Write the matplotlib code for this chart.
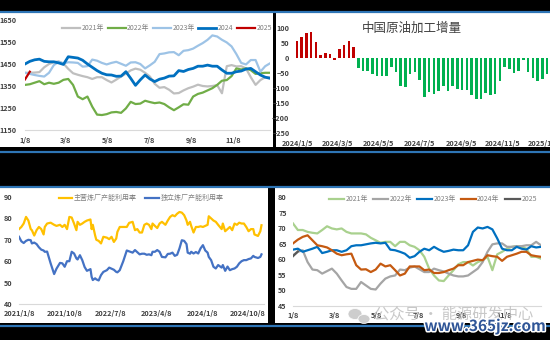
import numpy as np
import pandas as pd
import matplotlib
matplotlib.use("Agg")
import matplotlib.pyplot as plt
from matplotlib.patches import Rectangle, Ellipse
import matplotlib.patheffects as pe

plt.rcParams['font.family'] = ['Noto Sans CJK SC', 'DejaVu Sans']

# ---------- 数据 ----------
# 左上: 周度, 1/8 起
tl_2021 = [1410, 1410, 1411, 1413, 1435, 1450, 1458, 1462, 1452, 1428, 1408, 1401, 1395, 1390, 1382, 1390,
           1390, 1377, 1366, 1379, 1393, 1406, 1421, 1429, 1424, 1410, 1393, 1360, 1342, 1345, 1333, 1316,
           1318, 1330, 1340, 1347, 1356, 1350, 1348, 1350, 1354, 1317, 1440, 1445, 1439, 1440, 1430, 1390,
           1355, 1377, 1390, 1390]
tl_2022 = [1355, 1358, 1365, 1372, 1358, 1365, 1360, 1365, 1378, 1382, 1355, 1302, 1290, 1302, 1256, 1220,
           1218, 1222, 1230, 1232, 1228, 1248, 1278, 1268, 1270, 1283, 1277, 1272, 1275, 1268, 1253, 1240,
           1253, 1267, 1265, 1302, 1314, 1320, 1330, 1340, 1355, 1374, 1377, 1395, 1430, 1425, 1430, 1422,
           1405, 1408, 1410, 1410]
tl_2023 = [1410, 1405, 1400, 1396, 1393, 1410, 1445, 1460, 1453, 1458, 1457, 1455, 1438, 1440, 1470, 1465,
           1455, 1448, 1455, 1460, 1451, 1442, 1457, 1458, 1450, 1430, 1444, 1460, 1495, 1498, 1503, 1504,
           1490, 1510, 1513, 1520, 1533, 1545, 1560, 1580, 1575, 1560, 1548, 1530, 1495, 1455, 1448, 1468,
           1468, 1415, 1440, 1453]
tl_2024 = [1450, 1462, 1469, 1472, 1462, 1460, 1460, 1455, 1448, 1483, 1480, 1477, 1467, 1450, 1435, 1420,
           1408, 1401, 1400, 1394, 1395, 1415, 1385, 1353, 1378, 1400, 1382, 1370, 1381, 1386, 1395, 1396,
           1420, 1416, 1425, 1430, 1440, 1440, 1445, 1440, 1440, 1423, 1408, 1408, 1415, 1418, 1427, 1430,
           1415, 1400, 1390, 1385]
tl_2025 = [1380, 1415]
md_labels = ['1/8', '3/8', '5/8', '7/8', '9/8', '11/8']

# 右上: 中国原油加工增量 (周度, 2024/1/5 起)
inc_values = [57, 70, 83, 87, 53, 11, 18, 13, -8, 29, 44, 57, 37,
              -33, -44, -43, -52, -59, -61, -61, -30, -46, -94, -97, -52, -48, -72, -130, -113,
              -121, -110, -93, -110, -93, -102, -106, -108, -124, -138, -136, -117, -124, -119,
              -78, -30, -36, -50, -43, -6, -47, -67, -77, -69, -52]
n_red = 13
inc_ticks = ['2024-01-05', '2024-03-05', '2024-05-05', '2024-07-05', '2024-09-05', '2024-11-05', '2025-01-05']

# 左下: 开工率 (2021/1/8 起, 周序号)
bl_weeks = [0, 2, 4, 6, 8, 10, 11, 13, 15, 17, 19, 21, 22, 24, 27, 30, 32, 35, 37, 39, 41, 43, 45, 47, 49,
            50, 52, 54, 56, 58, 61, 62, 63, 65, 66, 68, 70, 72, 75, 77, 79, 81, 83, 84, 86, 89, 92, 94, 97,
            99, 101, 103, 105, 107, 109, 111, 113, 114, 116, 118, 120, 122, 125, 127, 129, 131, 133, 135,
            137, 139, 141, 143, 144, 146, 147, 149, 151, 153, 155, 157, 159, 161, 162, 164, 166, 168, 170,
            173, 174, 176, 178, 180, 182, 184, 186, 188, 190, 192, 194, 196, 198, 200, 201, 204, 206, 207]
main_rate = [75, 76, 77.6, 80.7, 79, 75, 74.5, 72, 74.5, 76, 75, 72.5, 76, 77.6, 78, 77, 76.5, 77, 76, 77,
             75, 80.7, 80.4, 77.6, 74.5, 78.4, 77, 77.6, 78.4, 79, 79.5, 75, 77, 72, 70, 69.5, 68.3, 71.4,
             71, 70.3, 71.4, 69, 70.6, 73.7, 76, 76, 76, 77.9, 78.4, 74.5, 75, 73.4, 73.4, 77, 77.6, 77, 75,
             77.6, 76.5, 75.5, 77.6, 78.4, 77, 79, 80.7, 81.5, 81, 82.2, 83, 82.7, 81.5, 79, 77, 78.4, 76.5,
             73.4, 76, 76, 76.3, 76, 76.5, 77, 81, 80, 79, 78.4, 77, 75, 77.6, 74, 75, 76, 74.5, 77.6, 77,
             78, 77.6, 77.6, 76, 74, 75, 75, 72.5, 71.8, 74, 76.8]
indep_rate = [71.4, 69.3, 68.5, 69.5, 70, 69.8, 68.3, 68.7, 68, 66.5, 65.4, 65, 64.4, 64.5, 59, 54, 56.5,
              59.2, 59, 57.4, 60, 60, 64.4, 63.6, 61.3, 60.8, 62.8, 60.5, 57.3, 55.5, 56.3, 52.7, 51.2, 52,
              51.5, 51, 53.5, 55, 55.8, 57, 56.5, 56, 55, 54.8, 55.8, 60, 65, 64.6, 64, 65.2, 64.2, 63.2,
              63.5, 63.5, 63, 63.2, 62.8, 64.4, 64.4, 65.2, 64.4, 62, 61.8, 63.4, 63.5, 64, 62.5, 63, 66,
              69.8, 69.5, 68, 64, 63.5, 64.4, 63.6, 64.3, 63.6, 66, 67.5, 65, 64, 62, 60.5, 57.4, 56.6, 58.2,
              57, 58.2, 55.5, 57.5, 55.8, 56.3, 56.6, 57.4, 59, 60, 60.5, 60.5, 61, 61.3, 62.5, 62, 61.5,
              62, 63.2]
bl_ticks = ['2021-01-08', '2021-10-08', '2022-07-08', '2023-04-08', '2024-01-08', '2024-10-08']

# 右下: 周度, 1/8 起
br_2021 = [71.5, 69.4, 69.4, 68.8, 68.5, 68.3, 69.4, 70.6, 69.9, 69.6, 69.9, 68.8, 68.3, 68.3, 68.3, 68,
           66.9, 66.1, 65.3, 65.6, 65.6, 64.2, 65.6, 65.6, 64.5, 64, 62.9, 60.8, 57, 54.8, 53.2, 53, 54.8,
           56.5, 58.4, 59.1, 59.1, 58, 59.1, 59.7, 60.8, 56.5, 61.6, 62.4, 63.4, 64, 64.2, 64, 63.4, 60.8,
           60.8, 60.2]
br_2022 = [61.3, 62.4, 62.9, 59.1, 56.7, 56.5, 55.4, 56.2, 57, 55.4, 53.2, 51.1, 50.5, 50.5, 52.7, 51.6,
           50.5, 50.3, 52.2, 53.8, 54.5, 54.8, 56.7, 56.5, 57.3, 57.7, 56.8, 55.9, 55.9, 57, 56.5, 56.1,
           55.4, 54.8, 54.5, 54.5, 54.8, 55.9, 57, 59.1, 62.4, 64.8, 65.1, 65.1, 64, 64, 64.2, 64.2, 64.5,
           64.5, 65.6, 64.5]
br_2023 = [63.1, 63.4, 62.4, 62.9, 63.4, 64, 62, 62.4, 62.9, 62.9, 62.4, 62.9, 64.2, 64.5, 64.5, 64.8,
           65.1, 65.3, 65.1, 65.3, 63.1, 62.9, 62.4, 61.8, 60.5, 61, 62.4, 63.4, 62.9, 64, 63.1, 62.4, 62.7,
           63.1, 62.9, 62.9, 64.5, 68.8, 70.2, 69.9, 70.4, 69.6, 66.7, 63.4, 62.9, 62.9, 64, 63.4, 63.1,
           64.2, 63.8, 64]
br_2024 = [65.1, 66.3, 67.2, 67.7, 66.1, 64.5, 64.2, 63.8, 62.9, 61.8, 61.3, 61.6, 61.8, 58.1, 56.7, 56.8,
           55.9, 56.7, 58.6, 57.7, 58.1, 56.5, 54.8, 55.4, 57.7, 57.7, 57.7, 56.5, 56.7, 55.6, 55.6, 55.9,
           56.5, 57, 58.1, 58.1, 59.1, 59.5, 59.9, 59.7, 61.3, 61, 60.8, 59.5, 60.8, 61.3, 61.8, 62.4, 62.4,
           61.3, 61.0, 60.8]
br_2025 = [61.0, 62.5]

# ---------- 画布 ----------
W, H = 550, 340
fig = plt.figure(figsize=(W / 100, H / 100), dpi=100, facecolor='black')


def frac(x0, y0, x1, y1):
    return [x0 / W, 1 - y1 / H, (x1 - x0) / W, (y1 - y0) / H]


def panel(x0, y0, x1, y1):
    r = Rectangle((x0 / W, 1 - y1 / H), (x1 - x0) / W, (y1 - y0) / H,
                  transform=fig.transFigure, facecolor='white', edgecolor='none', zorder=-5)
    fig.add_artist(r)


def hline(y):
    fig.add_artist(plt.Line2D([0, 1], [1 - y / H] * 2, transform=fig.transFigure,
                              color='#2E75B6', lw=1.6, zorder=-4))


panel(0, 13, 273, 147)
panel(276, 13, 550, 147)
panel(0, 188, 268, 323)
panel(275, 188, 550, 323)
for yy in [12, 152, 187, 326]:
    hline(yy)

tick_c = '#404040'
fs = 5.2
lg = 5.0


def style(ax, ypad, xpad):
    for s in ['top', 'right', 'left']:
        ax.spines[s].set_visible(False)
    ax.spines['bottom'].set_color('#D9D9D9')
    ax.spines['bottom'].set_linewidth(0.8)
    ax.tick_params(length=0, labelsize=fs, labelcolor=tick_c)
    ax.tick_params(axis='y', pad=ypad)
    ax.tick_params(axis='x', pad=xpad)
    ax.set_facecolor('white')
    for lab in ax.get_xticklabels() + ax.get_yticklabels():
        lab.set_fontweight('bold')


def legend(ax, n, cx, cy, hl, cs):
    ax.legend(ncol=n, loc='center', bbox_to_anchor=(cx / W, 1 - cy / H), bbox_transform=fig.transFigure,
              frameon=False, fontsize=lg, handlelength=hl, handletextpad=0.2, columnspacing=cs,
              labelcolor='#7F7F7F', borderpad=0, borderaxespad=0)


days_md = [(pd.Timestamp(f'2021-{m}-08') - pd.Timestamp('2021-01-08')).days / 7 for m in [1, 3, 5, 7, 9, 11]]

# 左上
ax1 = fig.add_axes(frac(25, 20, 270, 130))
ax1.plot(np.arange(len(tl_2021)), tl_2021, color='#BFBFBF', lw=1.6, label='2021年')
ax1.plot(np.arange(len(tl_2022)), tl_2022, color='#70AD47', lw=1.6, label='2022年')
ax1.plot(np.arange(len(tl_2023)), tl_2023, color='#9DC3E6', lw=1.6, label='2023年')
ax1.plot(np.arange(len(tl_2024)), tl_2024, color='#0070C0', lw=2.0, label='2024')
ax1.plot(np.arange(len(tl_2025)), tl_2025, color='#C00000', lw=1.6, label='2025')
ax1.set_xlim(0, 51)
ax1.set_ylim(1150, 1650)
ax1.set_yticks(np.arange(1150, 1651, 100))
ax1.set_xticks(days_md)
ax1.set_xticklabels(md_labels)
style(ax1, 6, 5)
legend(ax1, 5, 167, 28, 2.6, 0.5)

# 右上
ax2 = fig.add_axes(frac(295, 28, 549, 133))
start = pd.Timestamp('2024-01-05')
xd = np.arange(len(inc_values)) * 7
colors = ['#C00000'] * n_red + ['#00B050'] * (len(inc_values) - n_red)
ax2.bar(xd, inc_values, width=3.8, color=colors)
ax2.set_xlim(-3, 374)
ax2.set_ylim(-250, 100)
ax2.set_yticks(np.arange(-250, 101, 50))
tk = [(pd.Timestamp(t) - start).days for t in inc_ticks]
ax2.set_xticks(tk)
ax2.set_xticklabels([f'{pd.Timestamp(t).year}/{pd.Timestamp(t).month}/{pd.Timestamp(t).day}' for t in inc_ticks])
style(ax2, 4, 5)
ax2.spines['bottom'].set_visible(False)
fig.text(412 / W, 1 - 28 / H, '中国原油加工增量', ha='center', va='center', fontsize=9, color='#404040')

# 左下
ax3 = fig.add_axes(frac(19, 197, 264, 304))
ax3.plot(np.array(bl_weeks) * 7, main_rate, color='#FFC000', lw=1.6, label='主营炼厂产能利用率')
ax3.plot(np.array(bl_weeks) * 7, indep_rate, color='#4472C4', lw=1.6, label='独立炼厂产能利用率')
ax3.set_xlim(0, 1464)
ax3.set_ylim(40, 90)
ax3.set_yticks(np.arange(40, 91, 10))
s3 = pd.Timestamp('2021-01-08')
ax3.set_xticks([(pd.Timestamp(t) - s3).days for t in bl_ticks])
ax3.set_xticklabels([f'{pd.Timestamp(t).year}/{pd.Timestamp(t).month}/{pd.Timestamp(t).day}' for t in bl_ticks])
style(ax3, 5, 4)
legend(ax3, 2, 141, 198, 2.0, 1.2)

# 右下
ax4 = fig.add_axes(frac(293, 197, 541, 306))
ax4.plot(np.arange(len(br_2021)), br_2021, color='#A9D18E', lw=1.6, label='2021年')
ax4.plot(np.arange(len(br_2022)), br_2022, color='#A5A5A5', lw=1.6, label='2022年')
ax4.plot(np.arange(len(br_2023)), br_2023, color='#0070C0', lw=1.6, label='2023年')
ax4.plot(np.arange(len(br_2024)), br_2024, color='#C55A11', lw=1.6, label='2024年')
ax4.plot(np.arange(len(br_2025)), br_2025, color='#595959', lw=1.6, label='2025')
ax4.set_xlim(0, 51)
ax4.set_ylim(45, 80)
ax4.set_yticks(np.arange(45, 81, 5))
ax4.set_xticks(days_md)
ax4.set_xticklabels(md_labels)
style(ax4, 4.5, 4)
legend(ax4, 5, 433, 199, 2.1, 0.8)

# 水印
for cx, cy, w, h in [(355, 314, 14, 11), (364, 319, 12, 9)]:
    fig.add_artist(Ellipse((cx / W, 1 - cy / H), w / W, h / H, transform=fig.transFigure,
                           facecolor='#C8C8C8', edgecolor='white', lw=0.6, alpha=0.9, zorder=5))
fig.text(454 / W, 1 - 314 / H, '公众号 · 能源研发中心', ha='center', va='center', fontsize=11,
         color='#BFBFBF', alpha=0.85, zorder=6)
fig.text(485 / W, 1 - 326 / H, 'www.365jz.com', ha='center', va='center', fontsize=11,
         fontweight='bold', color='#2F5597', zorder=7,
         path_effects=[pe.withStroke(linewidth=2.2, foreground='white')])

fig.savefig('out.png', dpi=100, facecolor='black')
